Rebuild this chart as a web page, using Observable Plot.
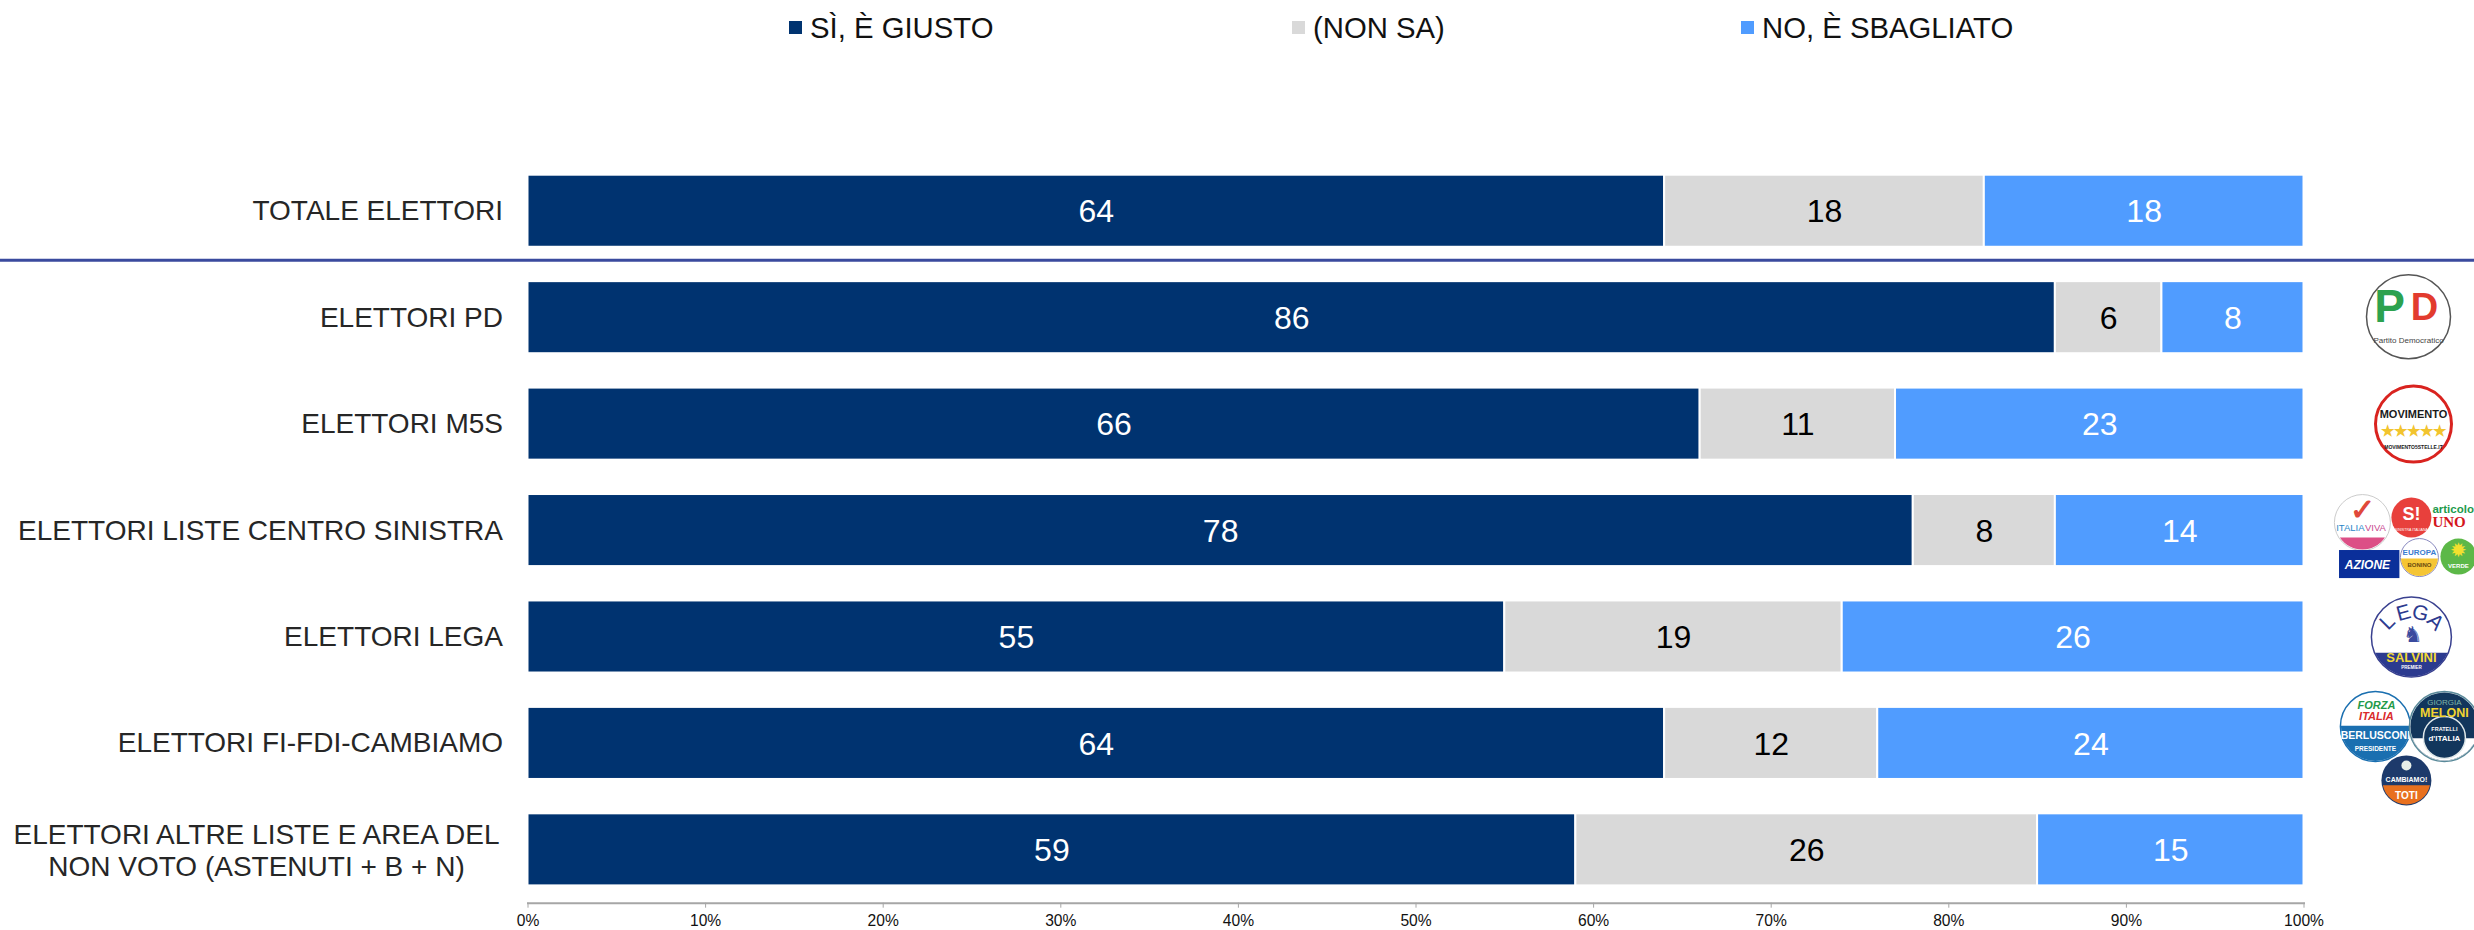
<!DOCTYPE html>
<html lang="it">
<head>
<meta charset="utf-8">
<script src="https://cdn.jsdelivr.net/npm/d3@7"></script>
<script src="https://cdn.jsdelivr.net/npm/@observablehq/plot@0.6"></script>
<style>
  html, body { margin: 0; padding: 0; background: #fff; overflow: hidden; }
  body { font-family: "Liberation Sans", Arial, sans-serif; }
  #legend { position: relative; height: 60px; width: 2474px; }
  #legend .item { position: absolute; top: 11px; font-size: 29.3px; line-height: 34px; color: #111; white-space: nowrap; }
  #legend .swatch { position: absolute; top: 10px; left: -21px; width: 13px; height: 13px; }
  svg { display: block; }
</style>
</head>
<body>
<div id="legend"></div>
<div id="chart"></div>
<script>
const categories = [
  "TOTALE ELETTORI",
  "ELETTORI PD",
  "ELETTORI M5S",
  "ELETTORI LISTE CENTRO SINISTRA",
  "ELETTORI LEGA",
  "ELETTORI FI-FDI-CAMBIAMO",
  "ELETTORI ALTRE LISTE E AREA DEL\nNON VOTO (ASTENUTI + B + N)"
];
const seriesNames = ["SÌ, È GIUSTO", "(NON SA)", "NO, È SBAGLIATO"];
const seriesColors = ["#003370", "#d9d9d9", "#509cff"];
const giusto = [64, 86, 66, 78, 55, 64, 59];
const nonSa = [18, 6, 11, 8, 19, 12, 26];
const sbagliato = [18, 8, 23, 14, 26, 24, 15];
const xTicks = [0, 10, 20, 30, 40, 50, 60, 70, 80, 90, 100];

const legendLefts = [810, 1313, 1762];
const legend = d3.select("#legend");
seriesNames.forEach((name, i) => {
  const item = legend.append("div").attr("class", "item").style("left", legendLefts[i] + "px").text(name);
  item.append("span").attr("class", "swatch").style("background", seriesColors[i]);
});

const table = [];
categories.forEach((row, i) => {
  [giusto, nonSa, sbagliato].forEach((values, s) => {
    table.push({row, series: seriesNames[s], value: values[i]});
  });
});
const stack = o => Plot.stackX({x: "value", y: "row", ...o});

/* Party badges, drawn beside the rows: offsets are from the 100% end of each row. */
const lowerSegment = h => ({
  draw(ctx, size) {
    const r = Math.sqrt(size / Math.PI), a = Math.asin(h);
    ctx.moveTo(r * Math.cos(a), r * Math.sin(a));
    ctx.arc(0, 0, r, a, Math.PI - a);
    ctx.closePath();
  }
});
const badge = (row, cx, cy) => ({
  disc: (r, fill, stroke = "none", strokeWidth = 1.5, ox = 0, oy = 0) =>
    Plot.dot([row], {x: () => 100, y: d => d, r, fill, stroke, strokeWidth, dx: cx + ox, dy: cy + oy}),
  seg: (r, h, fill) =>
    Plot.dot([row], {x: () => 100, y: d => d, r, fill, symbol: lowerSegment(h), dx: cx, dy: cy}),
  label: (text, ox, oy, fontSize, fill, extra = {}) =>
    Plot.text([row], {x: () => 100, y: d => d, text: () => text, dx: cx + ox, dy: cy + oy, fontSize, fill, fontWeight: "bold", ...extra})
});
const [rPD, rM5S, rCS, rLega, rCD] = categories.slice(1, 6);
const pd = badge(rPD, 104.5, -1);
const m5s = badge(rM5S, 109.5, 0);
const iv = badge(rCS, 58.4, -8);
const si = badge(rCS, 107.4, -13);
const art = badge(rCS, 128.4, 0);
const az = badge(rCS, 63.4, 35);
const eu = badge(rCS, 115.4, 27);
const ev = badge(rCS, 154.4, 26);
const lega = badge(rLega, 107.4, 0);
const fi = badge(rCD, 71.4, -17);
const fdi = badge(rCD, 140.4, -17);
const toti = badge(rCD, 102.4, 37);
const badges = [
  pd.disc(42, "#fff", "#555"),
  pd.label("P", -19, -9, 46, "#2ca24f"),
  pd.label("D", 16, -9, 38, "#e23b2e"),
  pd.label("Partito Democratico", 0, 24, 8, "#444", {fontWeight: "normal"}),

  m5s.disc(38, "#fff", "#d9231f", 3),
  m5s.label("MOVIMENTO", 0, -10, 11, "#1a1a1a"),
  m5s.label("★★★★★", 0, 7, 15, "#f2c42e"),
  m5s.label("MOVIMENTO5STELLE.IT", 0, 23, 5, "#1a1a1a"),

  iv.disc(28, "#fff", "#ccc", 1),
  iv.seg(27, 0.55, "#dc4f86"),
  iv.label("✓", 0, -12, 30, "#e0483a"),
  iv.label("ITALIA", -12, 5, 9.5, "#2a86c8", {fontWeight: "normal"}),
  iv.label("VIVA", 13, 5, 9.5, "#c8478f", {fontWeight: "normal"}),

  si.disc(20, "#e8403c"),
  si.label("S!", 0, -3, 18, "#fff"),
  si.label("SINISTRA ITALIANA", 0, 12, 3.6, "#fff", {fontWeight: "normal"}),

  art.label("articolo", 0, -21, 11.5, "#1e9a4c", {textAnchor: "start"}),
  art.label("UNO", 0, -8, 15, "#d4161c", {textAnchor: "start", fontFamily: "Liberation Serif"}),

  Plot.barX([rCS], {x1: () => 102, x2: () => 105.4, y: d => d, fill: "#0a2f9a", insetTop: 56, insetBottom: -12}),
  az.label("AZIONE", 0, 0, 12, "#fff", {fontStyle: "italic"}),

  eu.disc(19, "#fff", "#8a8ac0", 1),
  eu.seg(18.5, 0.05, "#f5c534"),
  eu.label("EUROPA", 0, -5, 8, "#3a7bd0"),
  eu.label("BONINO", 0, 8, 6, "#6a4a10"),

  ev.disc(18, "#5cb848"),
  ev.label("✹", 0, -6, 20, "#f2e02e", {fontWeight: "normal"}),
  ev.label("VERDE", 0, 10, 6, "#fff"),

  lega.disc(40, "#fff", "#39408f"),
  lega.seg(39.5, 0.4, "#2c3a8f"),
  lega.label("L", -24, -15, 21, "#2c3a8f", {rotate: -45, fontWeight: "normal"}),
  lega.label("E", -8, -24, 21, "#2c3a8f", {rotate: -15, fontWeight: "normal"}),
  lega.label("G", 9, -24, 21, "#2c3a8f", {rotate: 15, fontWeight: "normal"}),
  lega.label("A", 24, -15, 21, "#2c3a8f", {rotate: 45, fontWeight: "normal"}),
  lega.label("♞", 2, -2, 22, "#3a4a9e", {fontWeight: "normal"}),
  lega.label("SALVINI", 0, 21, 13, "#f4d834"),
  lega.label("PREMIER", 0, 31, 4.5, "#fff"),

  fi.disc(35, "#fff", "#1a6fb0"),
  fi.seg(34.5, -0.02, "#1a6fb0"),
  fi.label("FORZA", 1, -21, 11, "#1f9a4a", {fontStyle: "italic"}),
  fi.label("ITALIA", 1, -10, 11, "#d92b2b", {fontStyle: "italic"}),
  fi.label("BERLUSCONI", 0, 9, 10.5, "#fff"),
  fi.label("PRESIDENTE", 0, 22, 6.5, "#fff"),

  fdi.disc(35, "#fff", "#5a8a9a"),
  fdi.disc(34, "#12365c"),
  fdi.seg(34, 0.35, "#fff"),
  fdi.disc(21, "#12365c", "#dfe8ea", 1.5, 0, 11),
  fdi.label("GIORGIA", 0, -24, 8, "#7fb7a8", {fontWeight: "normal"}),
  fdi.label("MELONI", 0, -13, 12.5, "#f2d430"),
  fdi.label("FRATELLI", 0, 3, 5.5, "#fff"),
  fdi.label("d'ITALIA", 0, 12, 8, "#fff"),

  toti.disc(25, "#1d3a6b"),
  toti.seg(24, 0.2, "#e8701e"),
  toti.disc(5, "#e8efe8", "none", 0, 0, -15),
  toti.label("CAMBIAMO!", 0, -1, 7, "#fff"),
  toti.label("TOTI", 0, 15, 10, "#fff")
];

const chart = Plot.plot({
  width: 2474,
  height: 870,
  marginLeft: 527.5,
  marginRight: 170.5,
  marginTop: 97.4,
  marginBottom: 27.3,
  style: {fontFamily: "'Liberation Sans', Arial, sans-serif", background: "#fff", color: "#000"},
  x: {domain: [0, 100], label: null},
  y: {domain: categories, paddingInner: 0.323, paddingOuter: 0.1626, round: false, label: null},
  color: {domain: seriesNames, range: seriesColors},
  marks: [
    Plot.barX(table, stack({fill: "series", stroke: "#fff", strokeWidth: 2})),
    Plot.text(table, Plot.filter(d => d.series !== seriesNames[1], stack({text: "value", fill: "#fff", fontSize: 32, dy: 1}))),
    Plot.text(table, Plot.filter(d => d.series === seriesNames[1], stack({text: "value", fill: "#000", fontSize: 32, dy: 1}))),
    Plot.ruleY([categories[0]], {stroke: "#3a4a9e", strokeWidth: 3, dy: 49, insetLeft: -527.5, insetRight: -170.5}),
    Plot.axisY(categories.slice(0, 6), {anchor: "left", tickSize: 0, tickPadding: 25, fontSize: 28, fill: "#262626", label: null}),
    Plot.text([categories[6]], {x: () => 0, y: d => d, text: d => d, textAnchor: "middle", dx: -271.5, fontSize: 28, lineHeight: 1.14, fill: "#262626"}),
    Plot.frame({anchor: "bottom", stroke: "#a6a6a6", strokeWidth: 2}),
    Plot.axisX(xTicks, {anchor: "bottom", tickSize: 5, tickPadding: 7, stroke: "#a6a6a6", fill: "#111", fontSize: 15.6, label: null, tickFormat: d => d + "%"}),
    ...badges
  ]
});
document.getElementById("chart").append(chart);
</script>
</body>
</html>
